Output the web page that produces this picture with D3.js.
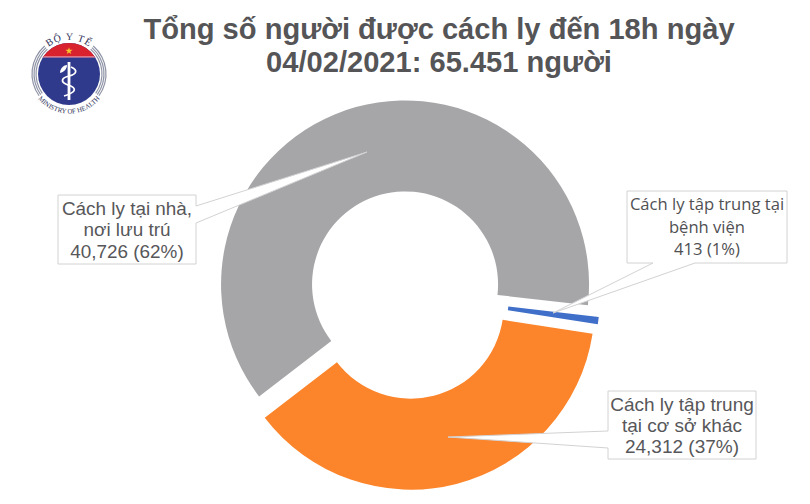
<!DOCTYPE html>
<html>
<head>
<meta charset="utf-8">
<script src="https://cdn.jsdelivr.net/npm/d3@7"></script>
<style>
  html, body { margin: 0; padding: 0; background: #fff; }
  svg { display: block; }
</style>
</head>
<body>
<div id="chart"></div>
<script>
// data
var titleLines = ["Tổng số người được cách ly đến 18h ngày", "04/02/2021: 65.451 người"];
var categories = ["Cách ly tại nhà, nơi lưu trú", "Cách ly tập trung tại bệnh viện", "Cách ly tập trung tại cơ sở khác"];
var values = [40726, 413, 24312];
var sliceColors = ["#a6a5a8", "#3f6fc8", "#fc842a"];
var sliceExplode = [11, 8, 11];

var width = 810,
    height = 504;

var svg = d3.select("#chart").append("svg")
  .attr("width", width)
  .attr("height", height);

svg.append("rect").attr("width", width).attr("height", height).attr("fill", "#fff");

// title
svg.append("g").selectAll("text")
  .data(titleLines)
  .enter().append("text")
  .attr("x", 439)
  .attr("y", function (d, i) { return 39 + i * 33; })
  .attr("text-anchor", "middle")
  .attr("font-family", "'Liberation Sans', Arial, sans-serif")
  .attr("font-weight", "bold")
  .attr("font-size", 29.1)
  .attr("fill", "#555557")
  .text(function (d) { return d; });

// doughnut, each slice pulled out along its middle angle
var cx = 408,
    cy = 295;

var deg = Math.PI / 180;

var pie = d3.pie()
  .sort(null)
  .startAngle(-127.5 * deg)
  .endAngle(232.5 * deg);

var arc = d3.arc()
  .innerRadius(93)
  .outerRadius(184);

svg.append("g").selectAll("path")
  .data(pie(values))
  .enter().append("path")
  .attr("d", arc)
  .attr("fill", function (d, i) { return sliceColors[i]; })
  .attr("transform", function (d, i) {
    var mid = (d.startAngle + d.endAngle) / 2;
    return "translate(" + (cx + sliceExplode[i] * Math.sin(mid)) + "," + (cy - sliceExplode[i] * Math.cos(mid)) + ")";
  });

// callouts: box outline with the pointer built in
var total = d3.sum(values);
var labelFmt = function (i) {
  return d3.format(",")(values[i]) + " (" + d3.format(".0%")(values[i] / total) + ")";
};

var callouts = [
  { x0: 58, y0: 195, x1: 196, y1: 264, side: "right", a: 206, b: 223, tx: 367, ty: 152,
    lines: ["Cách ly tại nhà,", "nơi lưu trú", labelFmt(0)], font: "'Liberation Sans', Arial, sans-serif", size: 18.9, fill: "#57575a", lh: 21.8 },
  { x0: 627, y0: 191, x1: 787, y1: 263, side: "bottom", a: 653, b: 695, tx: 553, ty: 313,
    lines: ["Cách ly tập trung tại", "bệnh viện", labelFmt(1)], font: "'Open Sans', 'Noto Sans', sans-serif", size: 16.6, fill: "#505053", lh: 22.5 },
  { x0: 608, y0: 391, x1: 756, y1: 459, side: "left", a: 431, b: 448, tx: 448, ty: 437,
    lines: ["Cách ly tập trung", "tại cơ sở khác", labelFmt(2)], font: "'Liberation Sans', Arial, sans-serif", size: 19, fill: "#57575a", lh: 21 }
];

function calloutPath(c) {
  var p = d3.path();
  p.moveTo(c.x0, c.y0);
  p.lineTo(c.x1, c.y0);
  if (c.side == "right") {
    p.lineTo(c.x1, c.a); p.lineTo(c.tx, c.ty); p.lineTo(c.x1, c.b);
  }
  p.lineTo(c.x1, c.y1);
  if (c.side == "bottom") {
    p.lineTo(c.b, c.y1); p.lineTo(c.tx, c.ty); p.lineTo(c.a, c.y1);
  }
  p.lineTo(c.x0, c.y1);
  if (c.side == "left") {
    p.lineTo(c.x0, c.b); p.lineTo(c.tx, c.ty); p.lineTo(c.x0, c.a);
  }
  p.closePath();
  return p.toString();
}

var callout = svg.append("g").selectAll("g")
  .data(callouts)
  .enter().append("g");

callout.append("path")
  .attr("d", calloutPath)
  .attr("fill", "#fff")
  .attr("stroke", "#d2d2d4")
  .attr("stroke-width", 1);

callout.each(function (c) {
  d3.select(this).selectAll("text")
    .data(c.lines)
    .enter().append("text")
    .attr("x", (c.x0 + c.x1) / 2)
    .attr("y", function (d, i) {
      return (c.y0 + c.y1) / 2 + (i - 1) * c.lh + c.size * 0.36;
    })
    .attr("text-anchor", "middle")
    .attr("font-family", c.font)
    .attr("font-size", c.size)
    .attr("fill", c.fill)
    .text(function (d) { return d; });
});

// ministry logo
var logo = svg.append("g").attr("transform", "translate(69,74)");
var defs = svg.append("defs");

defs.append("clipPath").attr("id", "disc")
  .append("circle").attr("r", 31);

// ribs round the disc
var ribRadii = [33, 35, 37];
ribRadii.forEach(function (r) {
  [[-126, -41], [41, 126]].forEach(function (span) {
    logo.append("path")
      .attr("d", d3.arc()({ innerRadius: r - 0.6, outerRadius: r + 0.6, startAngle: span[0] * deg, endAngle: span[1] * deg }))
      .attr("fill", "#8e93a6");
  });
});

var disc = logo.append("g").attr("clip-path", "url(#disc)");
disc.append("rect").attr("x", -31).attr("y", -31).attr("width", 62).attr("height", 62).attr("fill", "#2f3a8c");
disc.append("rect").attr("x", -31).attr("y", -31).attr("width", 62).attr("height", 14).attr("fill", "#d8232f");
disc.append("rect").attr("x", -31).attr("y", -17.8).attr("width", 62).attr("height", 1.4).attr("fill", "#e08a9c");

logo.append("path")
  .attr("d", d3.symbol().type(d3.symbolStar).size(16)())
  .attr("transform", "translate(0,-23)")
  .attr("fill", "#f6c52e");

// rod and snake
logo.append("rect").attr("x", -1.4).attr("y", -12).attr("width", 2.8).attr("height", 38).attr("fill", "#fff");
logo.append("path")
  .attr("d", "M-5,22C8,18 8,14 -1,11C-9,8 -8,4 0,2C8,0 9,-4 2,-7")
  .attr("fill", "none")
  .attr("stroke", "#fff")
  .attr("stroke-width", 1.8);
logo.append("path")
  .attr("d", "M-9,-1C-9,-6 -5,-9 -2,-9C-2,-5 -5,-2 -9,-1Z")
  .attr("fill", "#fff");

// ring text
defs.append("path").attr("id", "logoTop").attr("d", "M-34,0A34,34 0 0 1 34,0");
defs.append("path").attr("id", "logoBottom").attr("d", "M-39.5,0A39.5,39.5 0 0 0 39.5,0");

var ringText = [
  { href: "#logoTop", text: "BỘ Y TẾ", size: 10, fill: "#2e3157", spacing: 1 },
  { href: "#logoBottom", text: "MINISTRY OF HEALTH", size: 6.8, fill: "#2e3157", spacing: 0 }
];

ringText.forEach(function (t) {
  logo.append("text")
    .attr("font-family", "'Liberation Serif', serif")
    .attr("font-size", t.size)
    .attr("letter-spacing", t.spacing)
    .attr("fill", t.fill)
    .attr("text-anchor", "middle")
    .append("textPath")
    .attr("href", t.href)
    .attr("startOffset", "50%")
    .text(t.text);
});
</script>
</body>
</html>
